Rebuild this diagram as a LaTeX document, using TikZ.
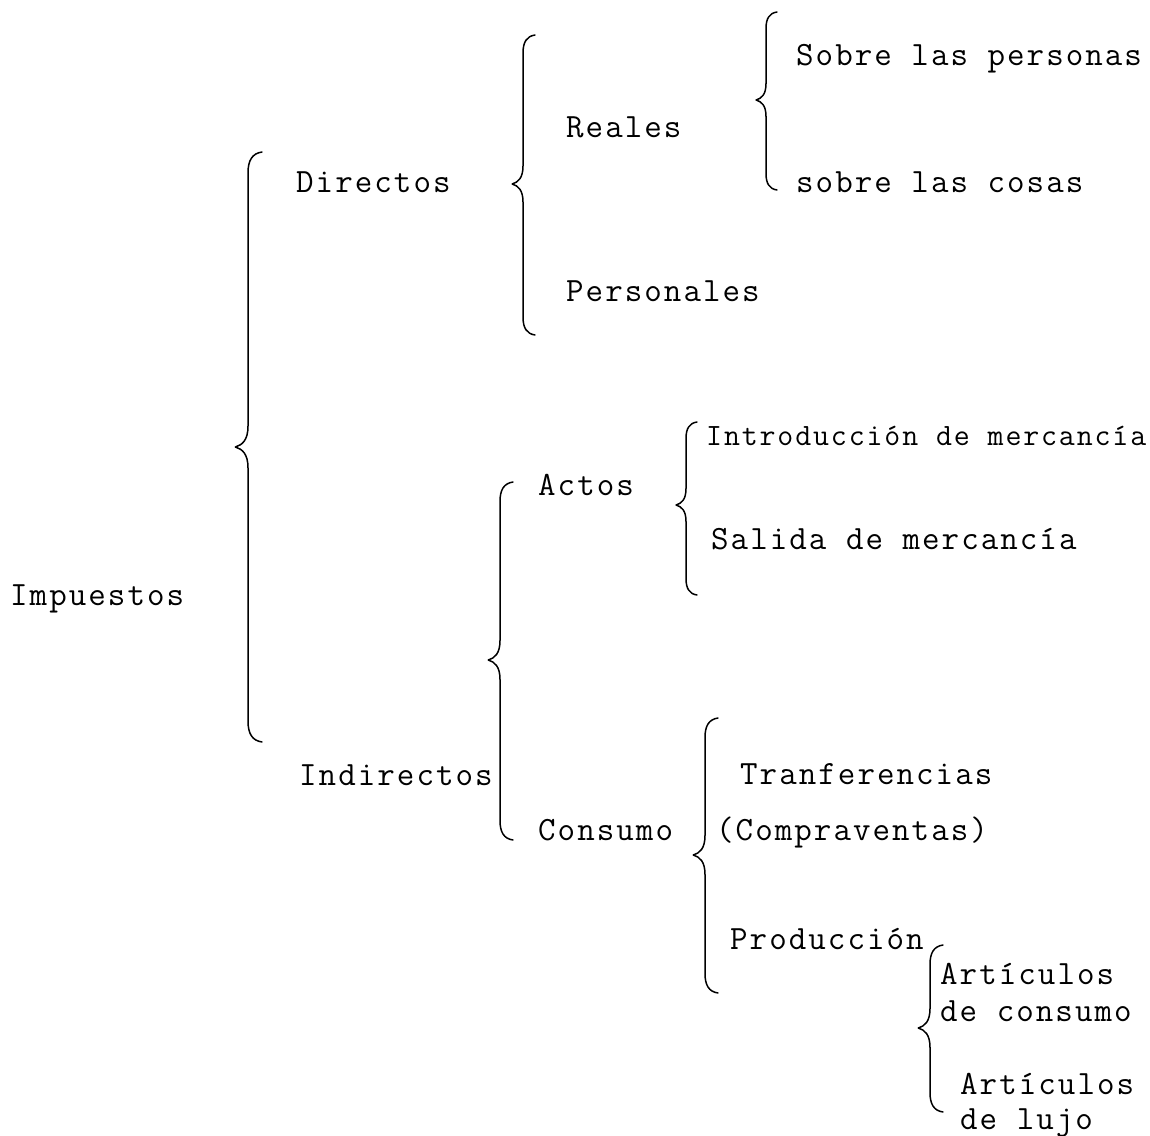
\documentclass[tikz,border=0pt]{standalone}
\usepackage{fontspec}
\newfontfamily\labelfont[LetterSpace=6]{Latin Modern Mono}
\begin{document}
\begin{tikzpicture}[x=1pt,y=-1pt,
  lbl/.style={anchor=base west,inner sep=0pt,font=\labelfont\fontsize{34}{40}\selectfont},
  small/.style={font=\labelfont\fontsize{31}{37}\selectfont},
  bracestyle/.style={line width=1.5pt,line cap=round,line join=round}]
\useasboundingbox (0,0) rectangle (1150,1135);
% curly brace: spine x, top y, tip y, bottom y, curl size
\newcommand\curlybrace[5]{%
  \draw[bracestyle] (#1+#5,#2) .. controls (#1+0.3*#5,#2+0.1*#5) and (#1,#2+0.6*#5) .. (#1,#2+1.5*#5)
    -- (#1,#3-1.5*#5) .. controls (#1,#3-0.5*#5) and (#1-0.4*#5,#3-0.15*#5) .. (#1-0.9*#5,#3)
    .. controls (#1-0.4*#5,#3+0.15*#5) and (#1,#3+0.5*#5) .. (#1,#3+1.5*#5)
    -- (#1,#4-1.5*#5) .. controls (#1,#4-0.6*#5) and (#1+0.3*#5,#4-0.1*#5) .. (#1+#5,#4);}

% labels
\node[lbl] (imp) at (10,605) {Impuestos};
\node[lbl] (dir) at (296,192) {Directos};
\node[lbl] (ind) at (299,785) {Indirectos};
\node[lbl] (rea) at (566,137) {Reales};
\node[lbl] (per) at (566,301) {Personales};
\node[lbl] (sper) at (796,65) {Sobre las personas};
\node[lbl] (scos) at (796,192) {sobre las cosas};
\node[lbl] (act) at (538,495) {Actos};
\node[lbl] (con) at (538,840) {Consumo};
\node[lbl,small] (intro) at (706,445) {Introducción de mercancía};
\node[lbl] (sal) at (711,549) {Salida de mercancía};
\node[lbl] (tra) at (740,784) {Tranferencias};
\node[lbl] (comp) at (716,840) {(Compraventas)};
\node[lbl] (prod) at (730,949) {Producción};
\node[lbl] (art1) at (940,984) {Artículos};
\node[lbl] (art1b) at (940,1021) {de consumo};
\node[lbl] (art2) at (960,1094) {Artículos};
\node[lbl] (art2b) at (960,1129) {de lujo};

% braces
\curlybrace{248}{152}{447}{742}{14}
\curlybrace{523}{35}{184}{335}{12}
\curlybrace{766}{12}{100}{190}{11}
\curlybrace{500}{482}{660}{840}{13}
\curlybrace{686}{422}{505}{595}{11}
\curlybrace{705}{718}{855}{993}{13}
\curlybrace{930}{945}{1028}{1112}{13}
\end{tikzpicture}
\end{document}
